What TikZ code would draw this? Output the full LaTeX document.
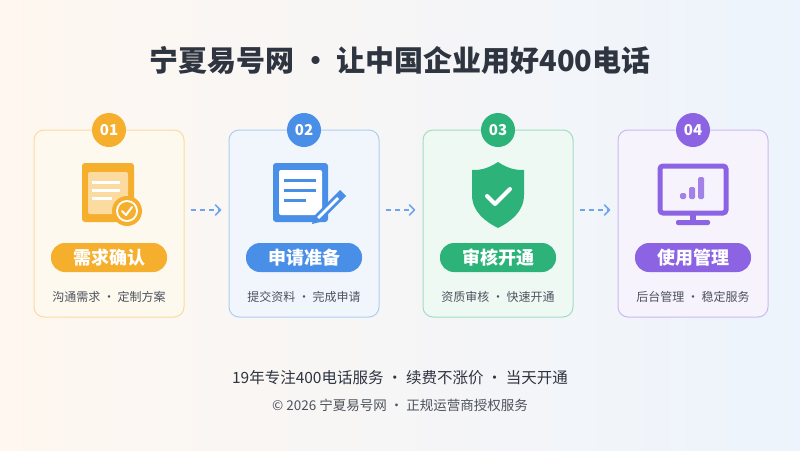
\documentclass[tikz,border=0pt]{standalone}
\usepackage{fontspec}
\setmainfont{Noto Sans CJK SC}
\usetikzlibrary{positioning,arrows.meta}
\definecolor{cOr}{HTML}{F6AE2D}
\definecolor{cBl}{HTML}{4A8FE7}
\definecolor{cGr}{HTML}{2DB37A}
\definecolor{cPu}{HTML}{8B63E3}
\definecolor{cTx}{HTML}{2E3440}
\begin{document}
\begin{tikzpicture}[x=1pt,y=-1pt,
card/.style={draw=#1!45, fill=#1!8, line width=1pt, rounded corners=10pt, minimum width=150pt, minimum height=187pt},
badge/.style={circle, fill=#1, text=white, minimum size=34pt, inner sep=0pt, font=\fontsize{15}{15}\selectfont\bfseries},
pill/.style={fill=#1, text=white, rounded corners=14pt, minimum width=116pt, minimum height=29pt, inner sep=0pt, font=\fontsize{18}{18}\selectfont\bfseries},
sub/.style={text=cTx!85, font=\fontsize{12}{12}\selectfont},
flow/.style={cBl!80, dash pattern=on 5pt off 4pt, line width=1.6pt},
]
\useasboundingbox (0,0) rectangle (800,450);
\shade[left color=orange!6, right color=cBl!10] (0,0) rectangle (800,450);

\node[text=cTx, font=\fontsize{29}{29}\selectfont\bfseries] (title) at (400,60) {宁夏易号网 · 让中国企业用好400电话};

% cards
\foreach \n/\c/\x/\t/\s in {1/cOr/109/需求确认/沟通需求 · 定制方案, 2/cBl/304/申请准备/提交资料 · 完成申请, 3/cGr/498/审核开通/资质审核 · 快速开通, 4/cPu/693/使用管理/后台管理 · 稳定服务}{
  \node[card=\c] (card\n) at (\x,223.5) {};
  \node[badge=\c] (num\n) at (\x,130) {0\n};
  \node[pill=\c] (step\n) at (\x,257.5) {\t};
  \node[sub] (desc\n) at (\x,297) {\s};
}

% icon 1: document with check
\fill[cOr, rounded corners=3pt] (82,163) rectangle (134,222);
\fill[cOr!45!white, rounded corners=2pt] (88,172) rectangle (128,214);
\foreach \yy/\w in {182/28, 190/28, 198/20}
  \fill[white] (92,\yy-1.5) rectangle (92+\w,\yy+1.5);
\fill[cOr] (127,211) circle (15);
\fill[white] (127,211) circle (11);
\fill[cOr] (127,211) circle (9);
\draw[white, line width=2pt, line cap=round, line join=round] (122,211) -- (126,215) -- (132,207);

% icon 2: document with pen
\fill[cBl, rounded corners=3pt] (273,163) rectangle (328,222);
\fill[white, rounded corners=2pt] (279,170) rectangle (322,215);
\foreach \yy/\w in {180/32, 190/32, 200/22}
  \fill[cBl] (284,\yy-1.5) rectangle (284+\w,\yy+1.5);
\fill[cBl] (340,190) -- (346,196) -- (320,222) -- (312,224) -- (314,216) -- cycle;
\fill[white] (337,197) -- (339,199) -- (319,219) -- (317,217) -- cycle;

% icon 3: shield
\fill[cGr] (498,162) .. controls (510,170) and (518,170) .. (524,170)
  -- (524,195) .. controls (524,212) and (510,222) .. (498,228)
  .. controls (486,222) and (472,212) .. (472,195) -- (472,170)
  .. controls (478,170) and (486,170) .. cycle;
\draw[white, line width=4pt, line cap=round, line join=round] (487,196) -- (495,204) -- (510,189);

% icon 4: monitor with chart
\draw[cPu, line width=5pt, rounded corners=3pt] (660,166) rectangle (726,213);
\fill[cPu] (690,213) rectangle (696,222);
\fill[cPu, rounded corners=2pt] (676,220) rectangle (710,225);
\foreach \xx/\hh in {680/6, 689/12, 698/22}
  \fill[cPu!80, rounded corners=1.5pt] (\xx,199) rectangle (\xx+6,199-\hh);

% arrows
\foreach \a/\b in {1/2, 2/3, 3/4}{
  \coordinate (tip\a) at ([xshift=-8pt,yshift=13.5pt]card\b.west);
  \draw[flow] ([xshift=6pt,yshift=13.5pt]card\a.east) -- ([xshift=-1pt]tip\a);
  \draw[cBl!80, line width=1.6pt, line cap=round, line join=round]
    ([xshift=-5pt,yshift=5pt]tip\a) -- (tip\a) -- ([xshift=-5pt,yshift=-5pt]tip\a);
}

\node[text=cTx, font=\fontsize{15.5}{15.5}\selectfont] (slogan) at (400,378) {19年专注400电话服务 · 续费不涨价 · 当天开通};
\node[text=cTx!85, font=\fontsize{13.5}{13.5}\selectfont] (copy) at (400,405) {© 2026 宁夏易号网 · 正规运营商授权服务};
\end{tikzpicture}
\end{document}
